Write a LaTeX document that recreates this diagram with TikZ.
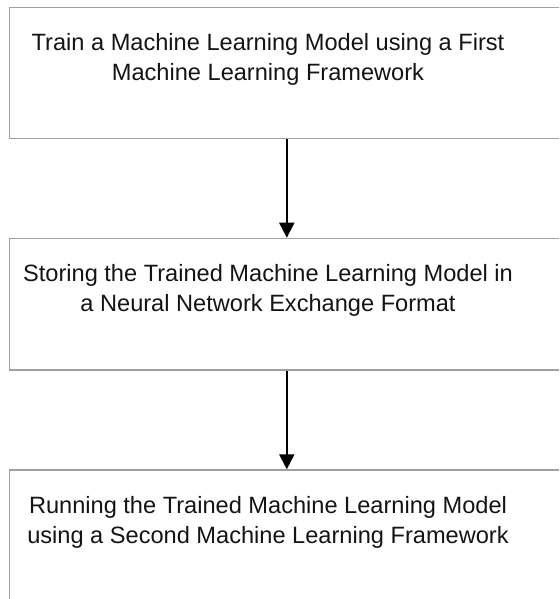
\documentclass[tikz,border=0pt]{standalone}
\usepackage{fontspec}
\setmainfont{Liberation Sans}
\usetikzlibrary{arrows.meta}
\definecolor{boxgray}{RGB}{160,160,160}
\begin{document}
\begin{tikzpicture}[x=1pt,y=-1pt,
  stepbox/.style={draw=boxgray, line width=1.6pt, minimum width=554.6pt,
    anchor=north west, inner sep=0pt},
  steptext/.style={font=\fontsize{23.6}{30}\selectfont, align=center,
    anchor=north, inner sep=0pt, text=black!92},
  flow/.style={-{Triangle[length=15pt,width=15pt]}, line width=2pt, black}]
  \useasboundingbox (0,0) rectangle (559,599);
  \clip (0,0) rectangle (559,599);

  % process boxes (they run past the right and bottom edges of the page)
  \node[stepbox, minimum height=131pt]   (b1) at (8.7,6.7)   {};
  \node[stepbox, minimum height=131.3pt] (b2) at (8.7,237.7) {};
  \node[stepbox, minimum height=150pt]   (b3) at (8.7,469.3) {};

  % step labels
  \node[steptext] (t1) at (268,32.8)
    {Train a Machine Learning Model using a First\\Machine Learning Framework};
  \node[steptext] (t2) at (268,264.2)
    {Storing the Trained Machine Learning Model in\\a Neural Network Exchange Format};
  \node[steptext] (t3) at (268,495.8)
    {Running the Trained Machine Learning Model\\using a Second Machine Learning Framework};

  % flow arrows
  \draw[flow] (b1.south) -- (b2.north);
  \draw[flow] (b2.south) -- (b3.north);
\end{tikzpicture}
\end{document}
